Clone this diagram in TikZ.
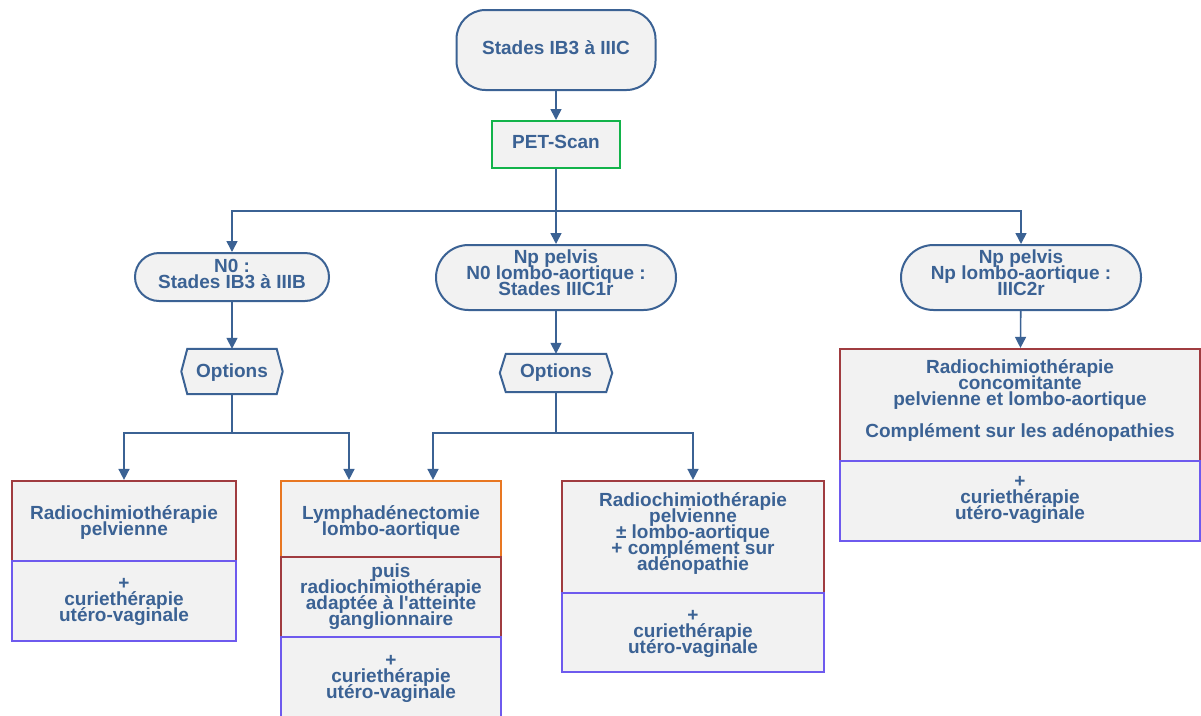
\documentclass[tikz,border=0pt]{standalone}
\usepackage{fontspec}
\setmainfont{Liberation Sans}[Ligatures=TeXOff]
\usetikzlibrary{arrows.meta,backgrounds}
\definecolor{tblue}{HTML}{3B6294}
\definecolor{boxgray}{HTML}{F2F2F2}
\definecolor{pgreen}{HTML}{12B34A}
\definecolor{pbrown}{HTML}{A03C40}
\definecolor{ppurple}{HTML}{6E5AEE}
\definecolor{porange}{HTML}{E87722}
\newcommand\diagfont{\bfseries\fontsize{19pt}{16pt}\selectfont\lineskiplimit -30pt\relax\lineskip 0pt\relax}
\tikzset{
  tx/.style={anchor=base, align=center, inner sep=0pt, text=tblue, font=\diagfont},
  term/.style={draw=tblue, fill=boxgray, line width=2pt, inner sep=0pt, rectangle},
  bx/.style={draw=#1, fill=boxgray, line width=2.2pt, inner sep=0pt, rectangle},
  hexa/.style={draw=tblue, fill=boxgray, line width=2pt, line join=miter},
  conn/.style={draw=tblue, line width=1.6pt, -{Triangle[length=11pt,width=11pt]}},
}
\begin{document}
\begin{tikzpicture}[x=1pt,y=-1pt]
\useasboundingbox (0,0) rectangle (1201,715);
% terminals
\node[term, rounded corners=29pt, minimum width=199pt, minimum height=80pt] (top) at (556,50) {};
\node[tx] (ttop) at (556,54) {Stades IB3 à IIIC};
\node[bx=pgreen, line width=2pt, minimum width=128pt, minimum height=47pt] (pet) at (556,144.5) {};
\node[tx] (tpet) at (556,148) {PET-Scan};
\node[term, rounded corners=24pt, minimum width=194pt, minimum height=48pt] (n0) at (232,277) {};
\node[tx] (tn0) at (232,288) {N0 :\\Stades IB3 à IIIB};
\node[term, rounded corners=32.5pt, minimum width=240pt, minimum height=65pt] (mid) at (556,277.5) {};
\node[tx] (tmid) at (556,295) {Np pelvis\\N0 lombo-aortique :\\Stades IIIC1r};
\node[term, rounded corners=32.5pt, minimum width=240pt, minimum height=65pt] (rgt) at (1021,277.5) {};
\node[tx] (trgt) at (1021,295) {Np pelvis\\Np lombo-aortique :\\IIIC2r};
% options
\node[minimum width=101pt, minimum height=45pt, inner sep=0pt] (optL) at (232,371.5) {};
\node[minimum width=112pt, minimum height=38pt, inner sep=0pt] (optM) at (556,373) {};
\begin{scope}[on background layer]
\draw[hexa] (optL.west) -- ([xshift=6pt]optL.north west) -- ([xshift=-6pt]optL.north east) -- (optL.east) -- ([xshift=-6pt]optL.south east) -- ([xshift=6pt]optL.south west) -- cycle;
\draw[hexa] (optM.west) -- ([xshift=6pt]optM.north west) -- ([xshift=-6pt]optM.north east) -- (optM.east) -- ([xshift=-6pt]optM.south east) -- ([xshift=6pt]optM.south west) -- cycle;
\end{scope}
\node[tx] (toptL) at (232,377) {Options};
\node[tx] (toptM) at (556,377) {Options};
% left boxes
\node[bx=pbrown, minimum width=224pt, minimum height=80pt] (lt) at (124,521) {};
\node[bx=ppurple, minimum width=224pt, minimum height=80pt] (lb) at (124,601) {};
\node[tx] (tlt) at (124,535) {Radiochimiothérapie\\pelvienne};
\node[tx] (tlb) at (124,621) {+\\curiethérapie\\utéro-vaginale};
% middle-left boxes
\node[bx=porange, minimum width=220pt, minimum height=76pt] (mlo) at (391,519) {};
\node[bx=pbrown, minimum width=220pt, minimum height=80pt] (mlb) at (391,597) {};
\node[bx=ppurple, minimum width=220pt, minimum height=80pt] (mlp) at (391,677) {};
\node[tx] (tmlo) at (391,535) {Lymphadénectomie\\lombo-aortique};
\node[tx] (tmlb) at (391,625) {puis\\radiochimiothérapie\\adaptée à l'atteinte\\ganglionnaire};
\node[tx] (tmlp) at (391,698) {+\\curiethérapie\\utéro-vaginale};
% middle-right boxes
\node[bx=pbrown, minimum width=262pt, minimum height=112pt] (mrb) at (693,537) {};
\node[bx=ppurple, minimum width=262pt, minimum height=79pt] (mrp) at (693,632.5) {};
\node[tx] (tmrb) at (693,570) {Radiochimiothérapie\\pelvienne\\± lombo-aortique\\+ complément sur\\adénopathie};
\node[tx] (tmrp) at (693,653) {+\\curiethérapie\\utéro-vaginale};
% right boxes
\node[bx=pbrown, minimum width=360pt, minimum height=112pt] (rb) at (1020,405) {};
\node[bx=ppurple, minimum width=360pt, minimum height=80pt] (rp) at (1020,501) {};
\node[tx] (trb) at (1020,437) {Radiochimiothérapie\\concomitante\\pelvienne et lombo-aortique\\[16pt]Complément sur les adénopathies};
\node[tx] (trp) at (1020,519) {+\\curiethérapie\\utéro-vaginale};
% junctions
\coordinate (j1) at (556,211);
\coordinate (j2) at (232,433);
\coordinate (j3) at (556,433);
% connectors
\draw[conn] (top) -- (pet);
\draw[conn] (pet) -- (mid);
\draw[conn] (j1) -| (n0.north);
\draw[conn] (j1) -| (rgt.north);
\draw[conn] (n0) -- (optL);
\draw[conn] (mid) -- (optM);
\draw[conn] (rgt) -- (rb);
\draw[draw=tblue, line width=1.6pt] (optL.south) -- (j2);
\draw[draw=tblue, line width=1.6pt] (optM.south) -- (j3);
\draw[conn] (j2) -| (lt.north);
\draw[conn] (j2) -| ([xshift=-42pt]mlo.north);
\draw[conn] (j3) -| ([xshift=42pt]mlo.north);
\draw[conn] (j3) -| (mrb.north);
\end{tikzpicture}
\end{document}
